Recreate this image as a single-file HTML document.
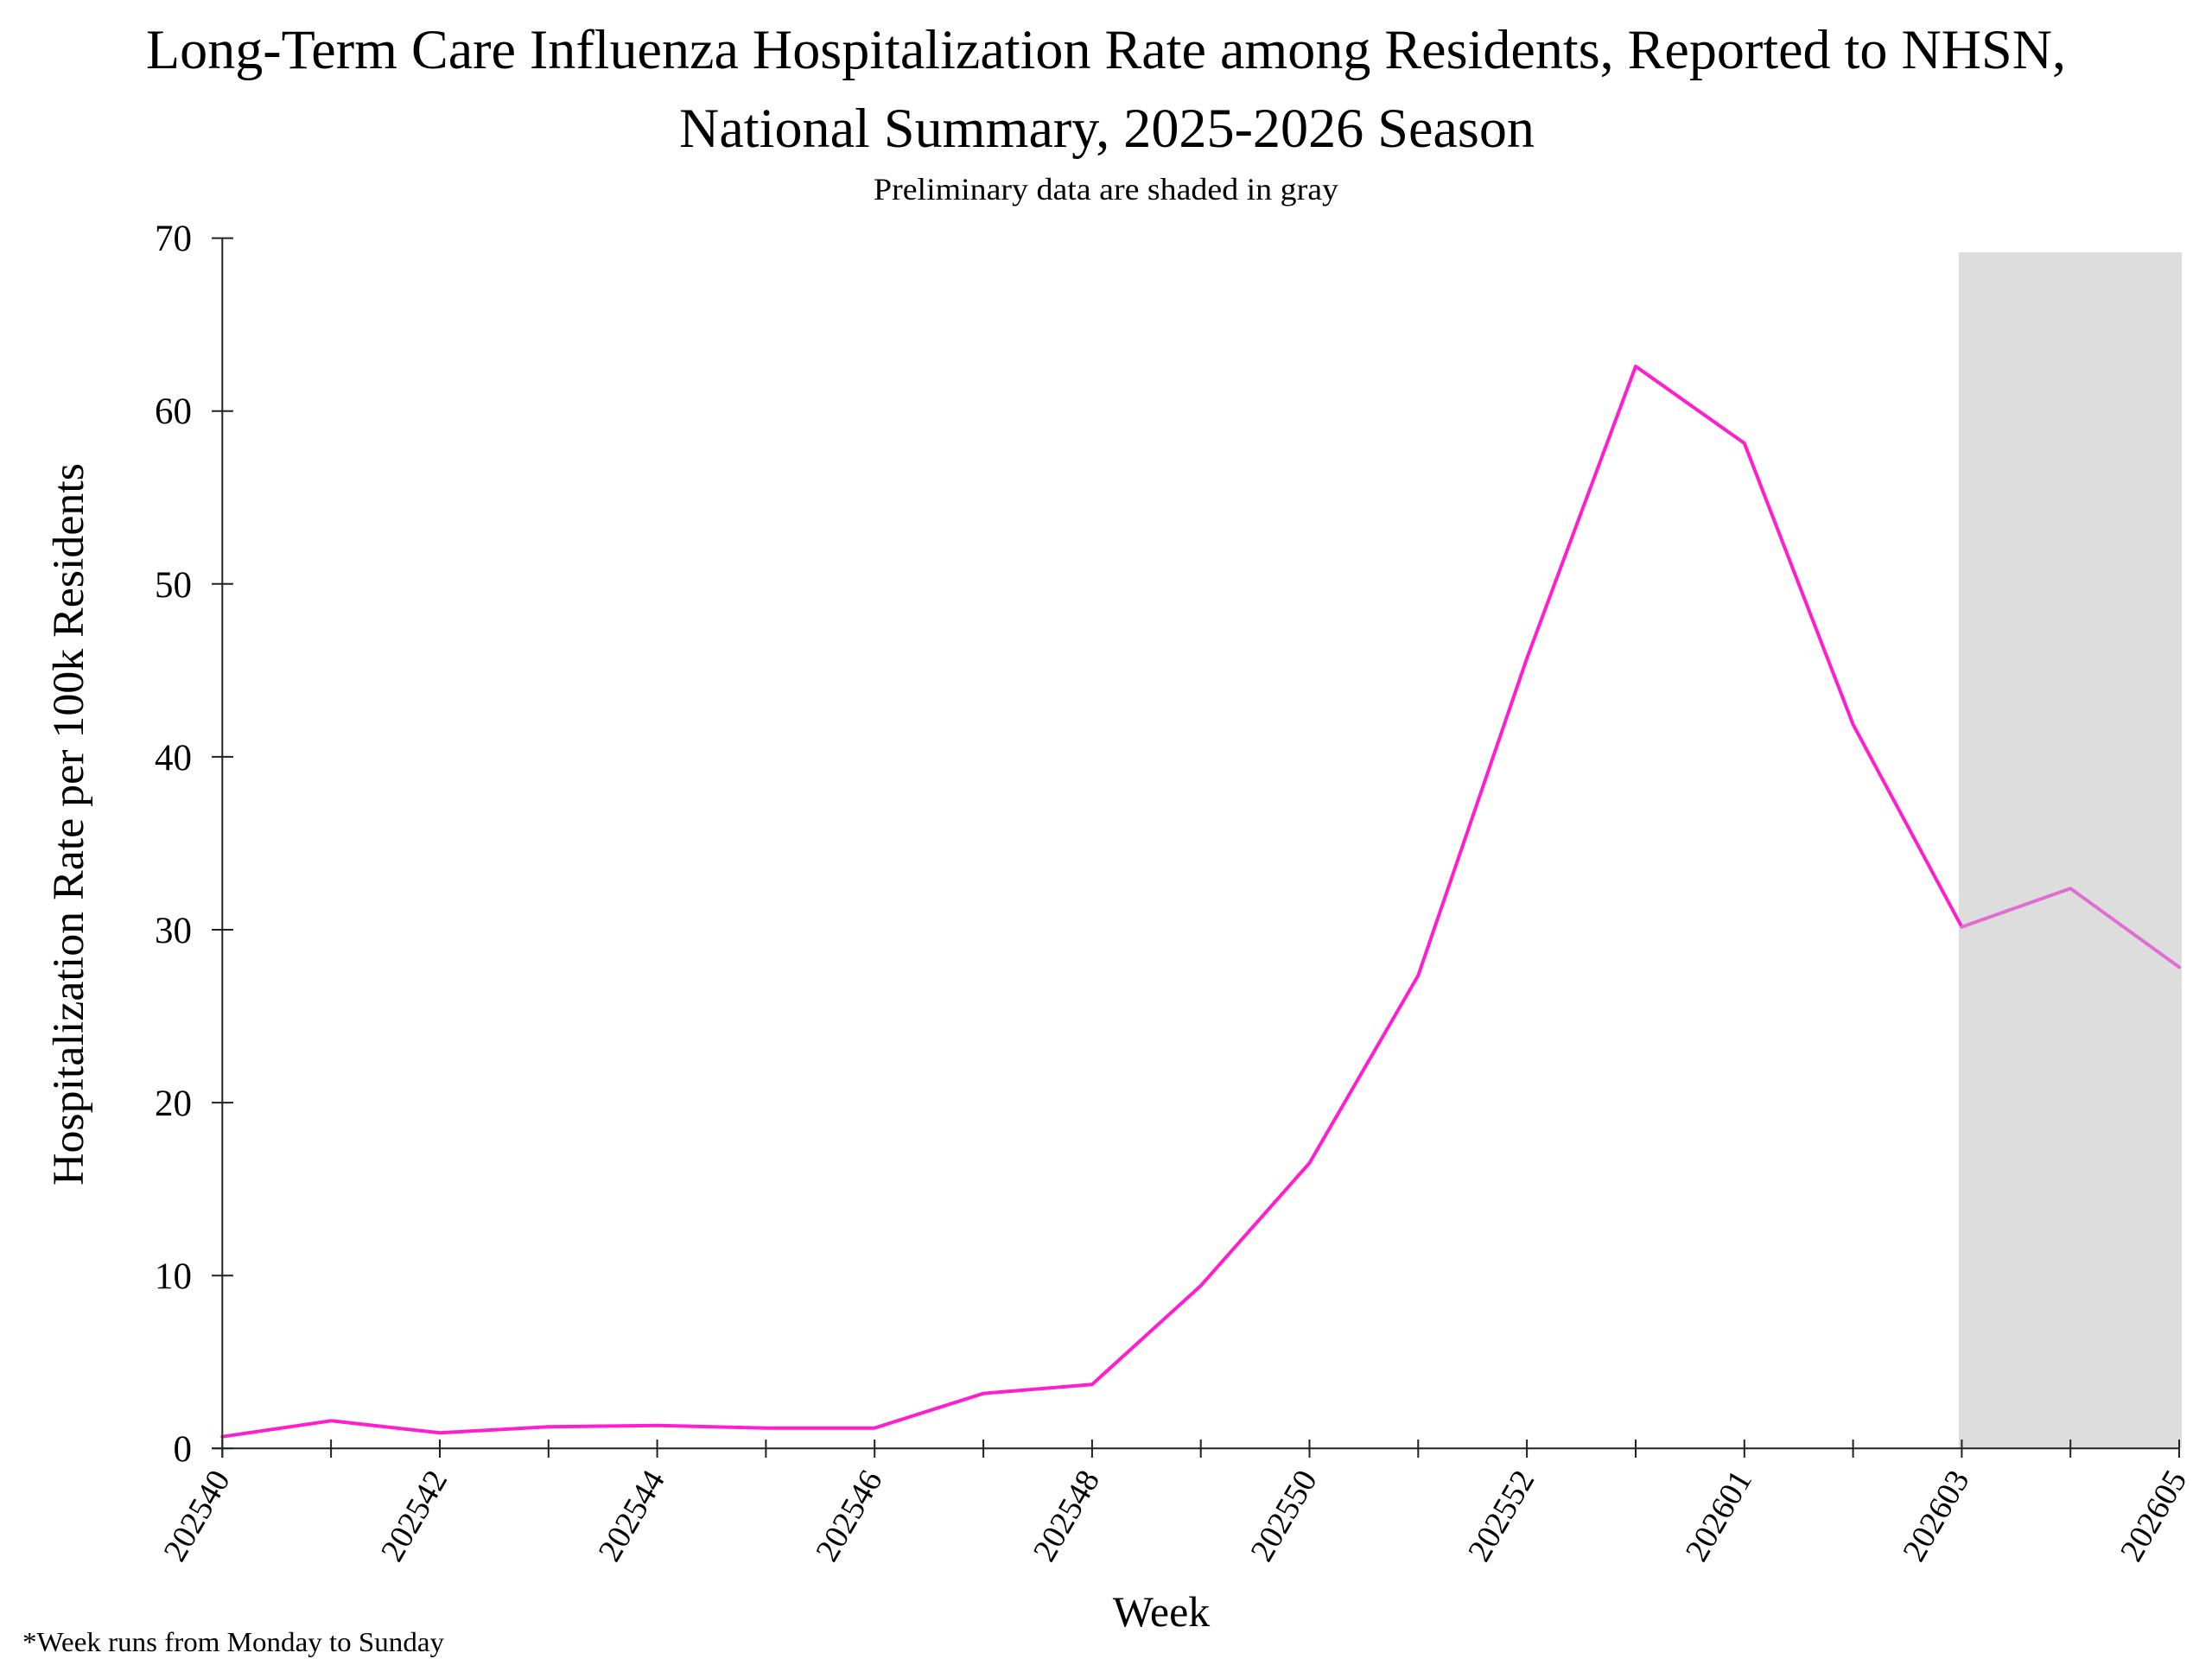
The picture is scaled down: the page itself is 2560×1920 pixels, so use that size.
<!DOCTYPE html>
<html>
<head>
<meta charset="utf-8">
<style>
  html, body { margin:0; padding:0; background:#ffffff; }
  svg { display:block; }
  text { font-family: "Liberation Serif", "Times New Roman", serif; fill:#000; }
</style>
</head>
<body>
<svg width="2560" height="1920" viewBox="0 0 2560 1920" xmlns="http://www.w3.org/2000/svg">
  <rect x="0" y="0" width="2560" height="1920" fill="#ffffff"/>

  <!-- Titles -->
  <text x="1280" y="79" font-size="65" text-anchor="middle" textLength="2222" lengthAdjust="spacingAndGlyphs">Long-Term Care Influenza Hospitalization Rate among Residents, Reported to NHSN,</text>
  <text x="1281" y="170" font-size="65" text-anchor="middle" textLength="990" lengthAdjust="spacingAndGlyphs">National Summary, 2025-2026 Season</text>
  <text x="1280" y="231" font-size="36" text-anchor="middle" textLength="538" lengthAdjust="spacingAndGlyphs">Preliminary data are shaded in gray</text>

  <!-- Preliminary shading -->
  <rect x="2267" y="292" width="258" height="1384" fill="#dddddd"/>

  <!-- Data line (final) -->
  <polyline fill="none" stroke="#ff1dce" stroke-width="4" stroke-linejoin="round" stroke-linecap="round"
    points="257.3,1662.7 383.1,1644.3 509.0,1658.3 634.8,1651.3 760.6,1649.7 886.4,1652.7 1012.2,1652.7 1138.1,1612.7 1263.9,1602.3 1389.7,1488.0 1515.5,1346.0 1641.3,1129.0 1767.1,762.0 1893.0,424.0 2018.8,513.0 2144.6,838.4 2270.4,1072.7"/>
  <!-- Data line (preliminary) -->
  <polyline fill="none" stroke="#e06ed0" stroke-width="4" stroke-linejoin="round" stroke-linecap="round"
    points="2270.4,1072.7 2396.2,1028.3 2522.0,1119.3"/>

  <!-- Axes -->
  <g stroke="#222" stroke-width="2" fill="none">
    <line x1="257.3" y1="275.7" x2="257.3" y2="1687"/>
    <line x1="245" y1="1676.3" x2="2523" y2="1676.3"/>
    <!-- y ticks -->
    <line x1="245" y1="1676.3" x2="270" y2="1676.3"/>
    <line x1="245" y1="1476.2" x2="270" y2="1476.2"/>
    <line x1="245" y1="1276.1" x2="270" y2="1276.1"/>
    <line x1="245" y1="1076.0" x2="270" y2="1076.0"/>
    <line x1="245" y1="875.9" x2="270" y2="875.9"/>
    <line x1="245" y1="675.8" x2="270" y2="675.8"/>
    <line x1="245" y1="475.7" x2="270" y2="475.7"/>
    <line x1="245" y1="275.6" x2="270" y2="275.6"/>
    <!-- x ticks -->
    <line x1="257.3" y1="1666" y2="1687" x2="257.3"/>
    <line x1="383.1" y1="1666" y2="1687" x2="383.1"/>
    <line x1="509.0" y1="1666" y2="1687" x2="509.0"/>
    <line x1="634.8" y1="1666" y2="1687" x2="634.8"/>
    <line x1="760.6" y1="1666" y2="1687" x2="760.6"/>
    <line x1="886.4" y1="1666" y2="1687" x2="886.4"/>
    <line x1="1012.2" y1="1666" y2="1687" x2="1012.2"/>
    <line x1="1138.1" y1="1666" y2="1687" x2="1138.1"/>
    <line x1="1263.9" y1="1666" y2="1687" x2="1263.9"/>
    <line x1="1389.7" y1="1666" y2="1687" x2="1389.7"/>
    <line x1="1515.5" y1="1666" y2="1687" x2="1515.5"/>
    <line x1="1641.3" y1="1666" y2="1687" x2="1641.3"/>
    <line x1="1767.1" y1="1666" y2="1687" x2="1767.1"/>
    <line x1="1893.0" y1="1666" y2="1687" x2="1893.0"/>
    <line x1="2018.8" y1="1666" y2="1687" x2="2018.8"/>
    <line x1="2144.6" y1="1666" y2="1687" x2="2144.6"/>
    <line x1="2270.4" y1="1666" y2="1687" x2="2270.4"/>
    <line x1="2396.2" y1="1666" y2="1687" x2="2396.2"/>
    <line x1="2522.0" y1="1666" y2="1687" x2="2522.0"/>
  </g>

  <!-- Y tick labels -->
  <g font-size="43" text-anchor="end">
    <text x="222" y="1691">0</text>
    <text x="222" y="1491">10</text>
    <text x="222" y="1291">20</text>
    <text x="222" y="1091">30</text>
    <text x="222" y="891">40</text>
    <text x="222" y="691">50</text>
    <text x="222" y="490">60</text>
    <text x="222" y="290">70</text>
  </g>

  <!-- X tick labels -->
  <g font-size="38" text-anchor="end">
    <text transform="translate(267,1711) rotate(-60)">202540</text>
    <text transform="translate(518.5,1711) rotate(-60)">202542</text>
    <text transform="translate(770.1,1711) rotate(-60)">202544</text>
    <text transform="translate(1021.7,1711) rotate(-60)">202546</text>
    <text transform="translate(1273.4,1711) rotate(-60)">202548</text>
    <text transform="translate(1525,1711) rotate(-60)">202550</text>
    <text transform="translate(1776.6,1711) rotate(-60)">202552</text>
    <text transform="translate(2028.3,1711) rotate(-60)">202601</text>
    <text transform="translate(2279.9,1711) rotate(-60)">202603</text>
    <text transform="translate(2531.5,1711) rotate(-60)">202605</text>
  </g>

  <!-- Axis titles -->
  <text x="1344" y="1882" font-size="50" text-anchor="middle">Week</text>
  <text transform="translate(96,954) rotate(-90)" font-size="51" text-anchor="middle" textLength="836" lengthAdjust="spacingAndGlyphs">Hospitalization Rate per 100k Residents</text>

  <!-- Footnote -->
  <text x="26" y="1911" font-size="32" textLength="488" lengthAdjust="spacingAndGlyphs">*Week runs from Monday to Sunday</text>
</svg>
</body>
</html>
